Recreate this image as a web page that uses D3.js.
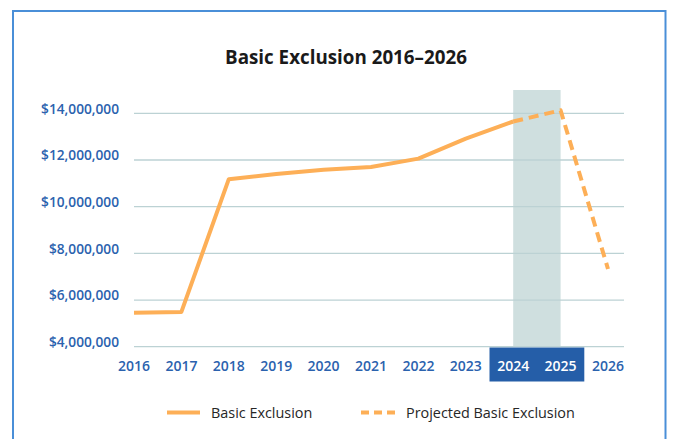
<!DOCTYPE html>
<html><head><meta charset="utf-8">
<script src="https://cdn.jsdelivr.net/npm/d3@7"></script>
<style>body{margin:0;background:#fff;}svg{display:block;font-family:"Open Sans",sans-serif;}</style>
</head><body>
<svg id="c" width="676" height="439"></svg>
<script>
const years = ["2016","2017","2018","2019","2020","2021","2022","2023","2024","2025","2026"];
const basicExclusion = [5450000,5490000,11180000,11400000,11580000,11700000,12060000,12920000,13650000,null,null];
const projectedExclusion = [null,null,null,null,null,null,null,null,13650000,14130000,7330000];
const yTicks = [4000000,6000000,8000000,10000000,12000000,14000000];
const highlightYears = ["2024","2025"];
const title = "Basic Exclusion 2016\u20132026";
const legendLabels = ["Basic Exclusion","Projected Basic Exclusion"];

const svg = d3.select("#c");
const orange = "#FDAF57", grid = "#BCD2D4", blue = "#2B62AE";

svg.append("rect").attr("x",13).attr("y",11).attr("width",652.5).attr("height",440)
  .attr("fill","none").attr("stroke","#4A8FD8").attr("stroke-width",2);

const x = d3.scalePoint().domain(years).range([134,608]);
const y = d3.scaleLinear().domain([4000000,15000000]).range([346.7,90]);
const step = x.step();

svg.append("text").attr("x",346).attr("y",57).attr("dy","0.35em").attr("text-anchor","middle")
  .attr("font-size",18.8).attr("font-weight",700).attr("fill","#1a1a1a").text(title);

// highlight band
svg.append("rect").attr("x",x(highlightYears[0])).attr("y",y(15000000))
  .attr("width",x(highlightYears[1])-x(highlightYears[0])).attr("height",y(4000000)-y(15000000))
  .attr("fill","#CFDFDF");

// grid
svg.append("g").selectAll("line").data(yTicks).join("line")
  .attr("x1",134).attr("x2",624).attr("y1",d=>y(d)).attr("y2",d=>y(d))
  .attr("stroke",grid).attr("stroke-width",1.3);

// y labels
svg.append("g").selectAll("text").data(yTicks).join("text")
  .attr("x",119).attr("y",d=>y(d)-4.5).attr("dy","0.35em").attr("text-anchor","end")
  .attr("font-size",13.7).attr("font-weight",600).attr("fill",blue)
  .text(d=>d3.format("$,")(d));

// blue x highlight box
svg.append("rect").attr("x",x(highlightYears[0])-step/2).attr("y",347.5)
  .attr("width",x(highlightYears[1])-x(highlightYears[0])+step).attr("height",34)
  .attr("fill","#255EA8");

svg.append("g").selectAll("text").data(years).join("text")
  .attr("x",d=>x(d)).attr("y",366).attr("dy","0.35em").attr("text-anchor","middle")
  .attr("font-size",14).attr("font-weight",600)
  .attr("fill",d=>highlightYears.includes(d)?"#fff":blue).text(d=>d);

const line = d3.line().defined(d=>d[1]!=null).x(d=>x(d[0])).y(d=>y(d[1]));
svg.append("path").datum(years.map((yr,i)=>[yr,basicExclusion[i]]))
  .attr("d",line).attr("fill","none").attr("stroke",orange).attr("stroke-width",4).attr("stroke-linejoin","round");
svg.append("path").datum(years.map((yr,i)=>[yr,projectedExclusion[i]]))
  .attr("d",line).attr("fill","none").attr("stroke",orange).attr("stroke-width",4)
  .attr("stroke-dasharray","10,6").attr("stroke-linejoin","round");

// legend
const lg = svg.append("g");
lg.append("line").attr("x1",167).attr("x2",200).attr("y1",412.5).attr("y2",412.5)
  .attr("stroke",orange).attr("stroke-width",4);
lg.append("text").attr("x",211).attr("y",412.5).attr("dy","0.35em").attr("font-size",14.4)
  .attr("font-weight",500).attr("fill","#262626").text(legendLabels[0]);
lg.append("line").attr("x1",361).attr("x2",395).attr("y1",412.5).attr("y2",412.5)
  .attr("stroke",orange).attr("stroke-width",4).attr("stroke-dasharray","8,5");
lg.append("text").attr("x",406).attr("y",412.5).attr("dy","0.35em").attr("font-size",14.4)
  .attr("font-weight",500).attr("fill","#262626").text(legendLabels[1]);
</script>
</body></html>
